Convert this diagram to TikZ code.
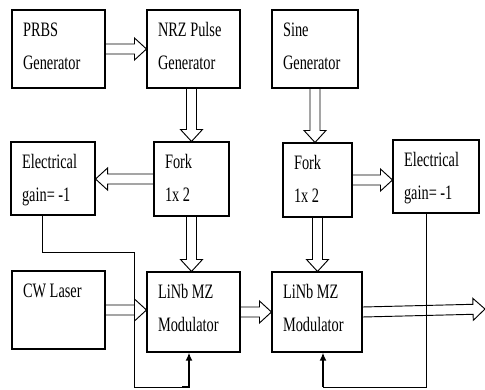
\documentclass[tikz,border=0pt]{standalone}
\usepackage{fontspec}
\usepackage{graphicx}
\setmainfont{Liberation Serif}
\usetikzlibrary{arrows.meta,calc,positioning}

% narrow text of a block
\newcommand\blocktext[1]{\scalebox{0.7}[1]{\begin{tabular}{@{}l@{}}#1\end{tabular}}}

% hollow double arrow from #1 to #2
\newcommand\dblarrow[2]{%
  \coordinate (da) at (#1);
  \coordinate (db) at (#2);
  \coordinate (dc) at ($(db)!0.36cm!(da)$);
  \draw[line width=0.8pt,line join=miter]
    ($(da)!0.15cm!90:(db)$) -- ($(dc)!0.15cm!90:(db)$) -- ($(dc)!0.33cm!90:(db)$)
    -- (db) -- ($(dc)!0.33cm!-90:(db)$) -- ($(dc)!0.15cm!-90:(db)$)
    -- ($(da)!0.15cm!-90:(db)$);}

\begin{document}
\begin{tikzpicture}[x=0.03cm,y=-0.03cm,
    blk/.style={draw,line width=0.9pt,inner sep=0pt},
    txt/.style={anchor=north west,inner sep=0pt,
      font=\fontsize{17.5}{28}\selectfont,xshift=0.34cm,yshift=-3.4pt},
    wire/.style={line width=0.8pt},
    feed/.style={line width=1.6pt,-{Latex[length=7pt,width=6pt]}}]
  \useasboundingbox (0,0) rectangle (485,389);
  % blocks
  \node[blk,minimum width=2.79cm,minimum height=2.34cm] (prbs) at (58.5,49) {};
  \node[blk,minimum width=2.79cm,minimum height=2.34cm] (nrz) at (193.5,49) {};
  \node[blk,minimum width=2.58cm,minimum height=2.34cm] (sine) at (315,49) {};
  \node[blk,minimum width=2.52cm,minimum height=2.19cm] (elec1) at (53,178.5) {};
  \node[blk,minimum width=2.25cm,minimum height=2.22cm] (fork1) at (191.5,179) {};
  \node[blk,minimum width=2.07cm,minimum height=2.22cm] (fork2) at (317.5,180) {};
  \node[blk,minimum width=2.58cm,minimum height=2.19cm] (elec2) at (436,176.5) {};
  \node[blk,minimum width=2.79cm,minimum height=2.34cm] (laser) at (58.5,310) {};
  \node[blk,minimum width=2.79cm,minimum height=2.40cm] (mod1) at (193.5,312) {};
  \node[blk,minimum width=2.70cm,minimum height=2.40cm] (mod2) at (317,312) {};
  % texts
  \node[txt] (prbs-t) at (prbs.north west) {\blocktext{PRBS\\Generator}};
  \node[txt] (nrz-t) at (nrz.north west) {\blocktext{NRZ Pulse\\Generator}};
  \node[txt] (sine-t) at (sine.north west) {\blocktext{Sine\\Generator}};
  \node[txt] (elec1-t) at (elec1.north west) {\blocktext{Electrical\\gain= -1}};
  \node[txt] (fork1-t) at (fork1.north west) {\blocktext{Fork\\1x 2}};
  \node[txt] (fork2-t) at (fork2.north west) {\blocktext{Fork\\1x 2}};
  \node[txt] (elec2-t) at (elec2.north west) {\blocktext{Electrical\\gain= -1}};
  \node[txt] (laser-t) at (laser.north west) {\blocktext{CW Laser}};
  \node[txt] (mod1-t) at (mod1.north west) {\blocktext{LiNb MZ\\Modulator}};
  \node[txt] (mod2-t) at (mod2.north west) {\blocktext{LiNb MZ\\Modulator}};
  % feedback wires
  \coordinate (k1) at (134,252);
  \coordinate (b1) at (189,387);
  \coordinate (b2) at (323,387);
  \coordinate (out) at (485,309);
  \draw[wire] ([xshift=-0.33cm]elec1.south) |- (k1) |- (b1);
  \draw[wire] ([xshift=-0.3cm]elec2.south) |- (b2);
  \draw[feed] ([xshift=-0.2cm]b1) -- (b1) -- (b1 |- mod1.south);
  \draw[feed] (b2) -- (b2 |- mod2.south);
  % signal arrows
  \dblarrow{prbs.east}{nrz.west}
  \dblarrow{fork1.north |- nrz.south}{fork1.north}
  \dblarrow{fork1.west}{elec1.east |- fork1.west}
  \dblarrow{fork1.south}{fork1.south |- mod1.north}
  \dblarrow{sine.south}{sine.south |- fork2.north}
  \dblarrow{fork2.east}{fork2.east -| elec2.west}
  \dblarrow{fork2.south}{fork2.south |- mod2.north}
  \dblarrow{laser.east}{laser.east -| mod1.west}
  \dblarrow{mod1.east}{mod2.west}
  \dblarrow{mod2.east}{out}
\end{tikzpicture}
\end{document}
